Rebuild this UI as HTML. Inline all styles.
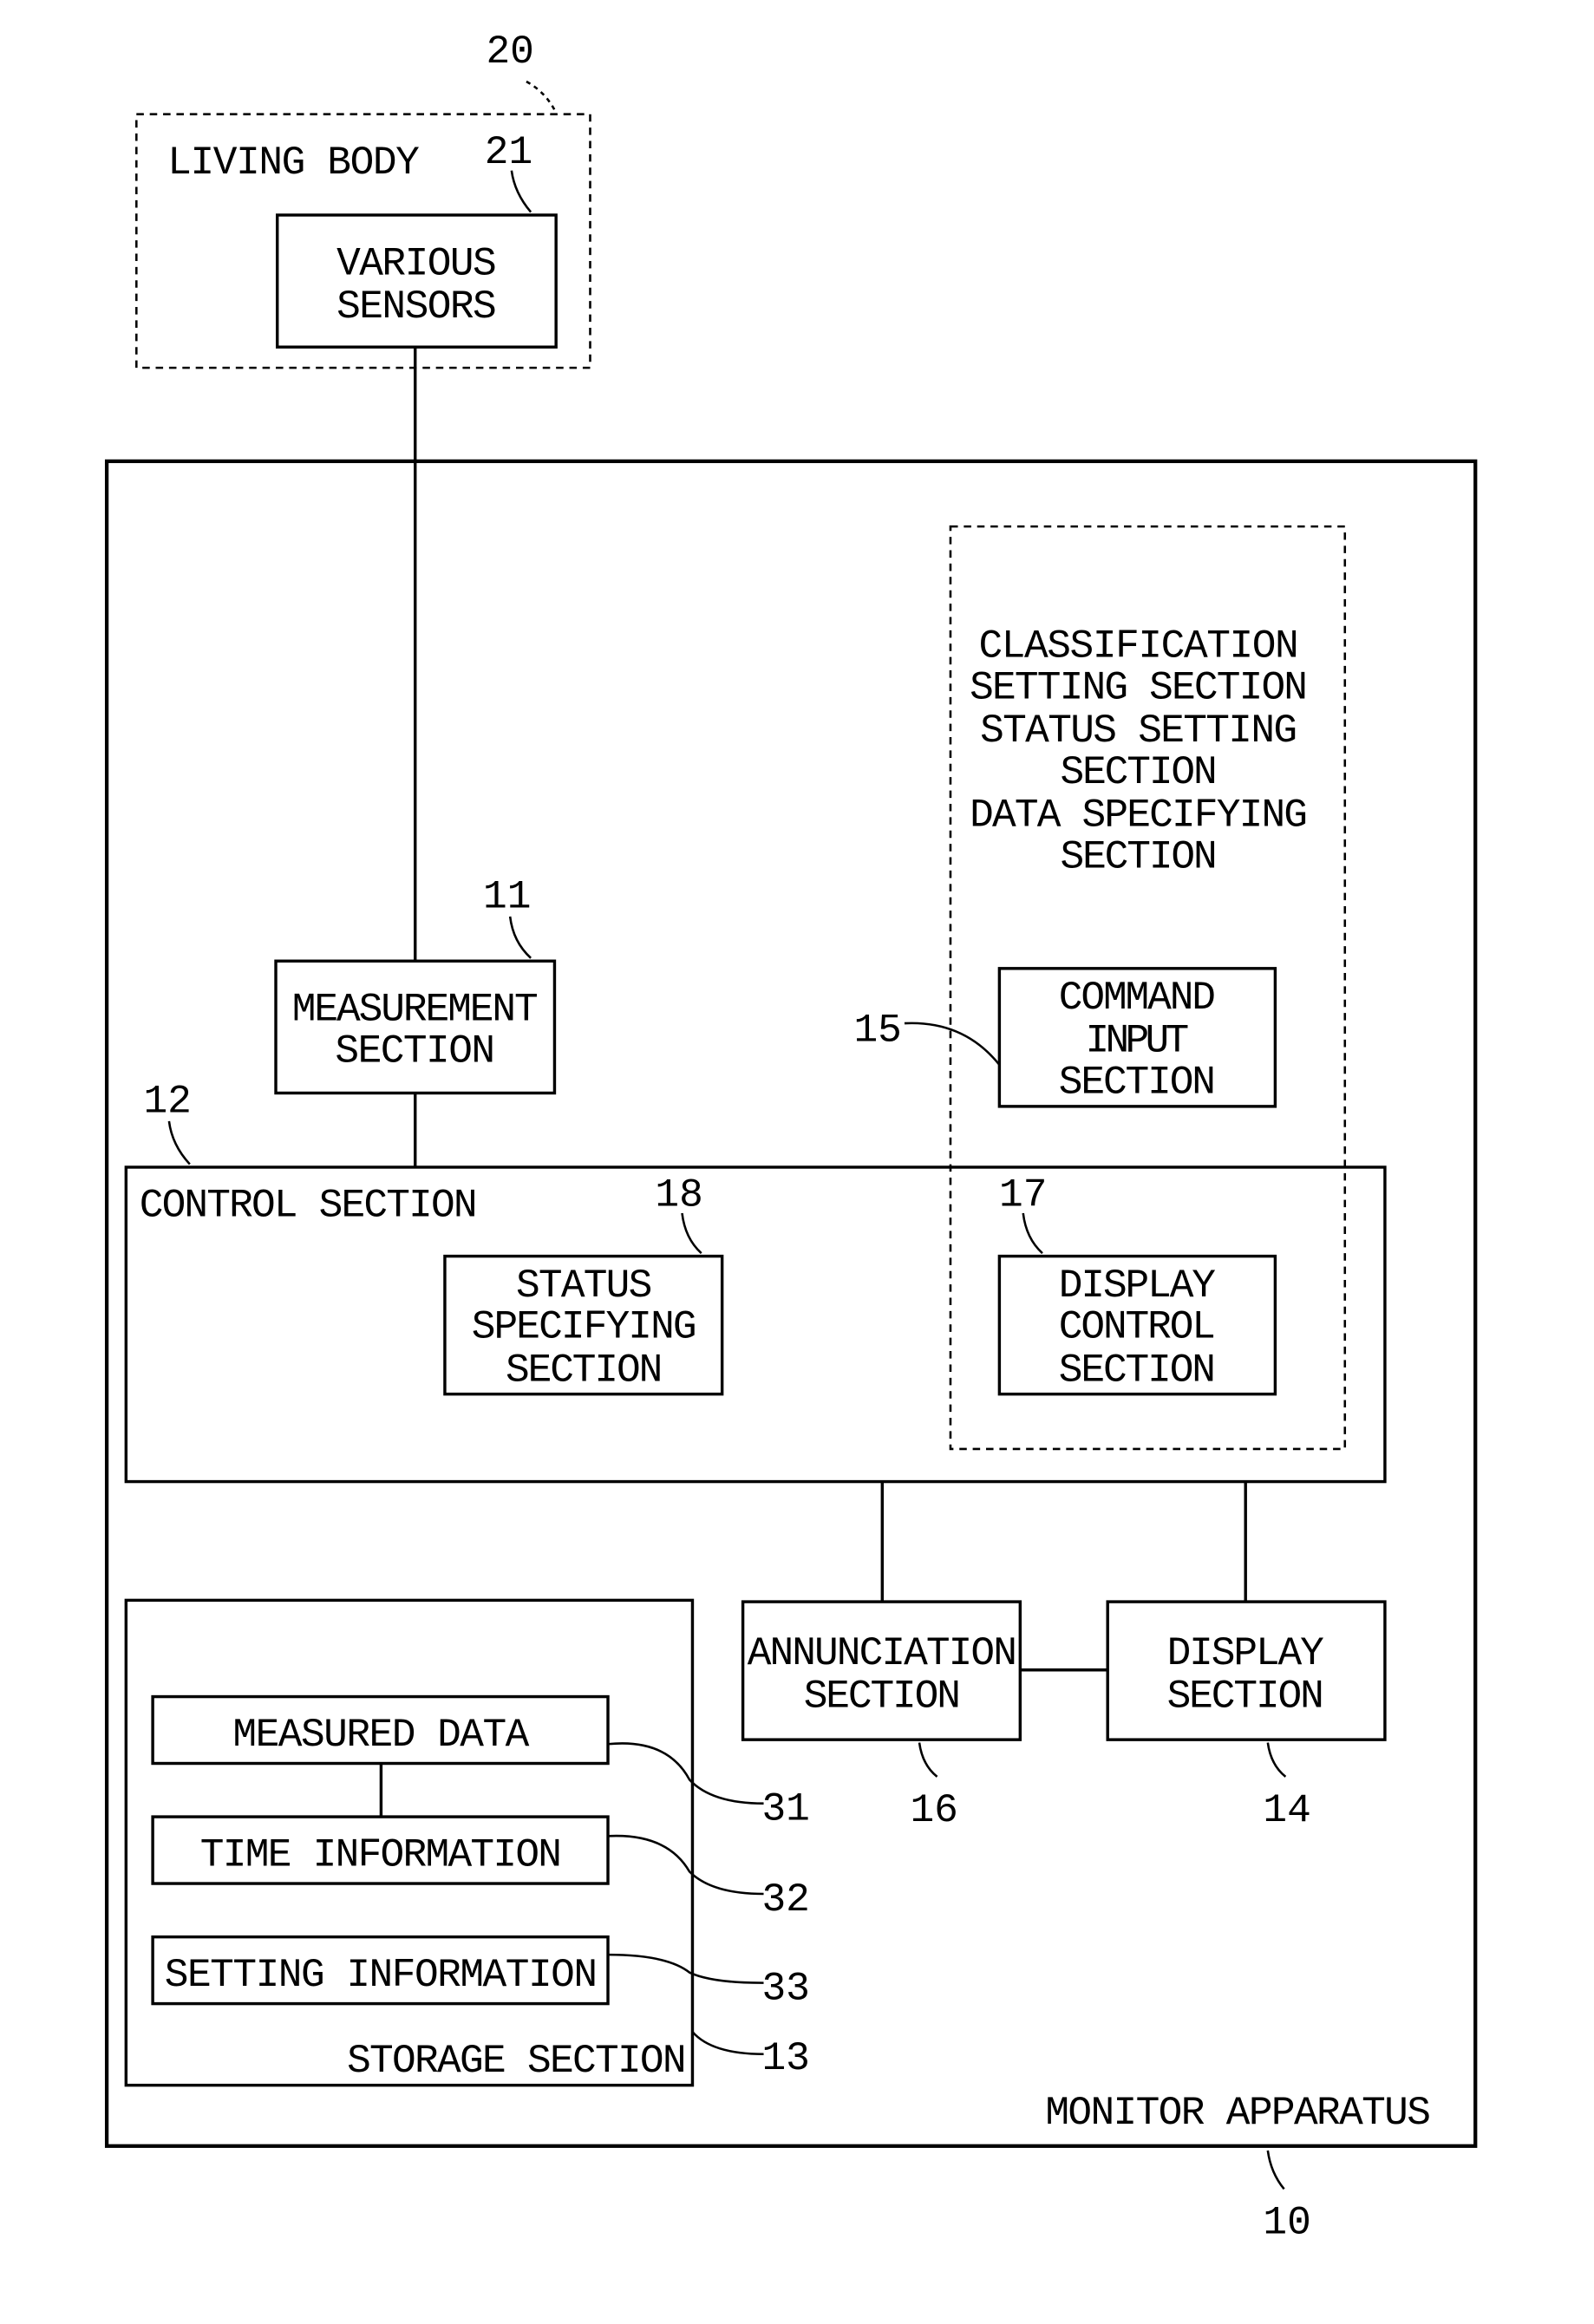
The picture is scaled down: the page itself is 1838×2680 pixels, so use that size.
<!DOCTYPE html>
<html><head><meta charset="utf-8"><style>html,body{margin:0;padding:0;background:#fff}svg{display:block}</style></head><body>
<svg width="1838" height="2680" viewBox="0 0 1075 1567" preserveAspectRatio="none" xmlns="http://www.w3.org/2000/svg">
<g fill="none" stroke="#000" stroke-width="2">
<rect x="92" y="77" width="306" height="171" stroke-dasharray="5,4" stroke-width="1.5"/>
<path d="M355 55 Q368 62 375 76" stroke-dasharray="3,3" stroke-width="1.5"/>
<path d="M345 115 Q347 130 358 143" stroke-width="1.5"/>
<rect x="187" y="145" width="188" height="89"/>
<line x1="280" y1="234" x2="280" y2="648"/>
<rect x="72" y="311" width="923" height="1136" stroke-width="2.5"/>
<rect x="641" y="355" width="266" height="622" stroke-dasharray="5,4" stroke-width="1.5"/>
<path d="M344 618 Q346 635 358 646" stroke-width="1.5"/>
<rect x="186" y="648" width="188" height="89"/>
<line x1="280" y1="737" x2="280" y2="787"/>
<path d="M114 756 Q116 772 128 785" stroke-width="1.5"/>
<rect x="85" y="787" width="849" height="212"/>
<path d="M460 818 Q462 835 473 845" stroke-width="1.5"/>
<rect x="300" y="847" width="187" height="93"/>
<path d="M690 818 Q692 835 703 845" stroke-width="1.5"/>
<rect x="674" y="847" width="186" height="93"/>
<path d="M610 690 Q650 688 674 718" stroke-width="1.5"/>
<rect x="674" y="653" width="186" height="93"/>
<line x1="595" y1="999" x2="595" y2="1080"/>
<line x1="840" y1="999" x2="840" y2="1080"/>
<rect x="501" y="1080" width="187" height="93"/>
<rect x="747" y="1080" width="187" height="93"/>
<line x1="688" y1="1126" x2="747" y2="1126"/>
<path d="M620 1175 Q622 1190 632 1198" stroke-width="1.5"/>
<path d="M855 1175 Q857 1190 867 1198" stroke-width="1.5"/>
<rect x="85" y="1079" width="382" height="327"/>
<rect x="103" y="1144" width="307" height="45"/>
<rect x="103" y="1225" width="307" height="45"/>
<rect x="103" y="1306" width="307" height="45"/>
<line x1="257" y1="1189" x2="257" y2="1225"/>
<path d="M410 1176 Q450 1172 465 1200 Q480 1216 515 1216" stroke-width="1.5"/>
<path d="M410 1238 Q450 1236 465 1262 Q480 1277 515 1277" stroke-width="1.5"/>
<path d="M410 1318 Q450 1318 465 1330 Q480 1337 515 1337" stroke-width="1.5"/>
<path d="M467 1370 Q480 1385 515 1385" stroke-width="1.5"/>
<path d="M855 1450 Q857 1465 866 1476" stroke-width="1.5"/>
</g>
<g font-family="'Liberation Mono', monospace" font-size="27" fill="#000" lengthAdjust="spacingAndGlyphs">
<text x="344" y="42" text-anchor="middle">20</text>
<text x="113" y="117" textLength="170">LIVING BODY</text>
<text x="343" y="110" text-anchor="middle">21</text>
<text x="281" y="185" text-anchor="middle" textLength="108">VARIOUS</text>
<text x="281" y="214" text-anchor="middle" textLength="108">SENSORS</text>
<text x="768" y="443" text-anchor="middle" textLength="216">CLASSIFICATION</text>
<text x="768" y="471" text-anchor="middle" textLength="228">SETTING SECTION</text>
<text x="768" y="500" text-anchor="middle" textLength="214">STATUS SETTING</text>
<text x="768" y="528" text-anchor="middle" textLength="106">SECTION</text>
<text x="768" y="557" text-anchor="middle" textLength="228">DATA SPECIFYING</text>
<text x="768" y="585" text-anchor="middle" textLength="106">SECTION</text>
<text x="342" y="612" text-anchor="middle">11</text>
<text x="280" y="688" text-anchor="middle" textLength="166">MEASUREMENT</text>
<text x="280" y="716" text-anchor="middle" textLength="108">SECTION</text>
<text x="592" y="702" text-anchor="middle">15</text>
<text x="767" y="680" text-anchor="middle" textLength="106">COMMAND</text>
<text x="767" y="709" text-anchor="middle" textLength="70">INPUT</text>
<text x="767" y="737" text-anchor="middle" textLength="106">SECTION</text>
<text x="113" y="750" text-anchor="middle">12</text>
<text x="94" y="820" textLength="228">CONTROL SECTION</text>
<text x="458" y="813" text-anchor="middle">18</text>
<text x="690" y="813" text-anchor="middle">17</text>
<text x="394" y="874" text-anchor="middle" textLength="92">STATUS</text>
<text x="394" y="902" text-anchor="middle" textLength="152">SPECIFYING</text>
<text x="394" y="931" text-anchor="middle" textLength="106">SECTION</text>
<text x="767" y="874" text-anchor="middle" textLength="106">DISPLAY</text>
<text x="767" y="902" text-anchor="middle" textLength="106">CONTROL</text>
<text x="767" y="931" text-anchor="middle" textLength="106">SECTION</text>
<text x="595" y="1122" text-anchor="middle" textLength="182">ANNUNCIATION</text>
<text x="595" y="1151" text-anchor="middle" textLength="106">SECTION</text>
<text x="840" y="1122" text-anchor="middle" textLength="106">DISPLAY</text>
<text x="840" y="1151" text-anchor="middle" textLength="106">SECTION</text>
<text x="630" y="1228" text-anchor="middle">16</text>
<text x="868" y="1228" text-anchor="middle">14</text>
<text x="257" y="1177" text-anchor="middle" textLength="200">MEASURED DATA</text>
<text x="257" y="1258" text-anchor="middle" textLength="244">TIME INFORMATION</text>
<text x="257" y="1339" text-anchor="middle" textLength="292">SETTING INFORMATION</text>
<text x="234" y="1397" textLength="229">STORAGE SECTION</text>
<text x="530" y="1227" text-anchor="middle">31</text>
<text x="530" y="1288" text-anchor="middle">32</text>
<text x="530" y="1348" text-anchor="middle">33</text>
<text x="530" y="1395" text-anchor="middle">13</text>
<text x="705" y="1432" textLength="260">MONITOR APPARATUS</text>
<text x="868" y="1506" text-anchor="middle">10</text>
</g>
</svg>
</body></html>
